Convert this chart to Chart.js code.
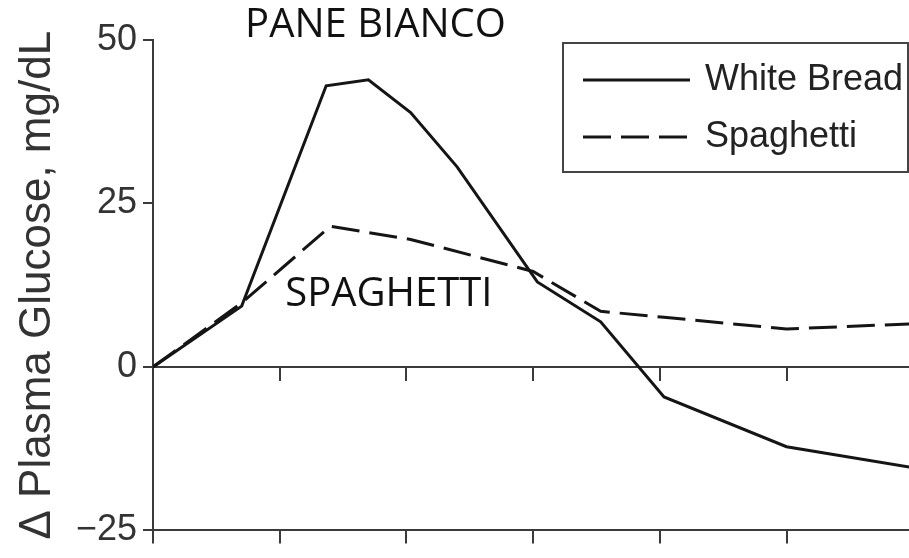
<!DOCTYPE html>
<html>
<head>
<meta charset="utf-8">
<script src="https://cdn.jsdelivr.net/npm/chart.js@4.4.0/dist/chart.umd.min.js"></script>
<style>
  html, body { margin: 0; padding: 0; background: #fff; }
  #wrap { width: 909px; height: 558px; }
</style>
</head>
<body>
<div id="wrap"><canvas id="chart" width="909" height="558"></canvas></div>
<script>
// minutes after the meal, change in plasma glucose (mg/dL)
const breadTimes = [0, 21, 41, 51, 61, 72, 91, 106, 121, 150, 180];
const breadValues = [0, 9.3, 43.0, 43.9, 38.9, 30.6, 13.0, 6.9, -4.6, -12.2, -15.4];
const pastaTimes = [0, 21, 42, 61, 90, 106, 121, 150, 180];
const pastaValues = [0, 9.8, 21.5, 19.5, 14.6, 8.5, 7.6, 5.8, 6.6];
const seriesLabels = ['White Bread', 'Spaghetti'];
const yTicks = [-25, 0, 25, 50];
const xTicks = [0, 30, 60, 90, 120, 150, 180];
const notes = [
  { text: 'PANE BIANCO', t: 21.8, v: 50.5 },
  { text: 'SPAGHETTI', t: 31.3, v: 9.3 }
];

const ink = '#151515';
const axisInk = '#3a3a3a';

function toPoints(ts, vs) {
  return ts.map((t, i) => ({ x: t, y: vs[i] }));
}

// legend box and text labels drawn on top of the plot
const overlay = {
  id: 'overlay',
  afterDraw(chart) {
    const { ctx, scales } = chart;
    ctx.save();

    // legend
    ctx.strokeStyle = '#444';
    ctx.lineWidth = 2;
    ctx.strokeRect(563, 43, 345, 129);
    ctx.font = '36px "Liberation Sans", Arial, sans-serif';
    ctx.fillStyle = '#222';
    ctx.textBaseline = 'middle';
    const rows = [80, 137];
    chart.data.datasets.forEach((ds, i) => {
      ctx.beginPath();
      ctx.setLineDash(ds.borderDash || []);
      ctx.strokeStyle = ink;
      ctx.lineWidth = 3;
      ctx.moveTo(583, rows[i]);
      ctx.lineTo(690, rows[i]);
      ctx.stroke();
      ctx.setLineDash([]);
      ctx.fillText(ds.label, 705, rows[i]);
    });

    // annotations
    ctx.font = '40px "Open Sans", sans-serif';
    ctx.fillStyle = '#111';
    ctx.textBaseline = 'alphabetic';
    notes.forEach(n => {
      ctx.fillText(n.text, scales.x.getPixelForValue(n.t), scales.y.getPixelForValue(n.v));
    });
    ctx.restore();
  }
};

const tickMarks = {
  display: true,
  drawOnChartArea: false,
  drawTicks: true,
  color: axisInk,
  lineWidth: 2
};

new Chart(document.getElementById('chart'), {
  type: 'line',
  data: {
    datasets: [
      {
        label: seriesLabels[0],
        data: toPoints(breadTimes, breadValues),
        borderColor: ink,
        borderWidth: 3,
        pointRadius: 0,
        tension: 0,
        fill: false
      },
      {
        label: seriesLabels[1],
        data: toPoints(pastaTimes, pastaValues),
        borderColor: ink,
        borderWidth: 3,
        borderDash: [28, 10],
        pointRadius: 0,
        tension: 0,
        fill: false
      }
    ]
  },
  options: {
    responsive: false,
    animation: false,
    layout: { padding: { top: 40, left: 0, right: 0, bottom: 0 } },
    plugins: {
      legend: { display: false },
      tooltip: { enabled: false }
    },
    scales: {
      x: {
        type: 'linear',
        position: 'bottom',
        min: 0,
        max: 179,
        afterBuildTicks: s => { s.ticks = xTicks.map(v => ({ value: v })); },
        afterFit: s => { s.height = 26; },
        ticks: { display: false },
        grid: Object.assign({}, tickMarks, { tickLength: 13 }),
        border: { display: true, color: axisInk, width: 2 }
      },
      x0: {
        type: 'linear',
        axis: 'x',
        position: { y: 0 },
        min: 0,
        max: 179,
        afterBuildTicks: s => { s.ticks = xTicks.map(v => ({ value: v })); },
        ticks: { display: false },
        grid: Object.assign({}, tickMarks, { tickLength: 13 }),
        border: { display: true, color: axisInk, width: 2 }
      },
      y: {
        min: -25,
        max: 50,
        afterBuildTicks: s => { s.ticks = yTicks.map(v => ({ value: v })); },
        afterFit: s => { s.width = 153; },
        ticks: {
          color: '#333',
          padding: 6,
          font: { family: '"Liberation Sans", Arial, sans-serif', size: 36 },
          callback: v => (v < 0 ? '\u2212' + Math.abs(v) : String(v))
        },
        grid: Object.assign({}, tickMarks, { tickLength: 10 }),
        border: { display: true, color: axisInk, width: 2 },
        title: {
          display: true,
          text: '\u0394 Plasma Glucose, mg/dL',
          color: '#333',
          padding: { top: 11, bottom: 0 },
          font: { family: '"Liberation Sans", Arial, sans-serif', size: 44 }
        }
      }
    }
  },
  plugins: [overlay]
});
</script>
</body>
</html>
